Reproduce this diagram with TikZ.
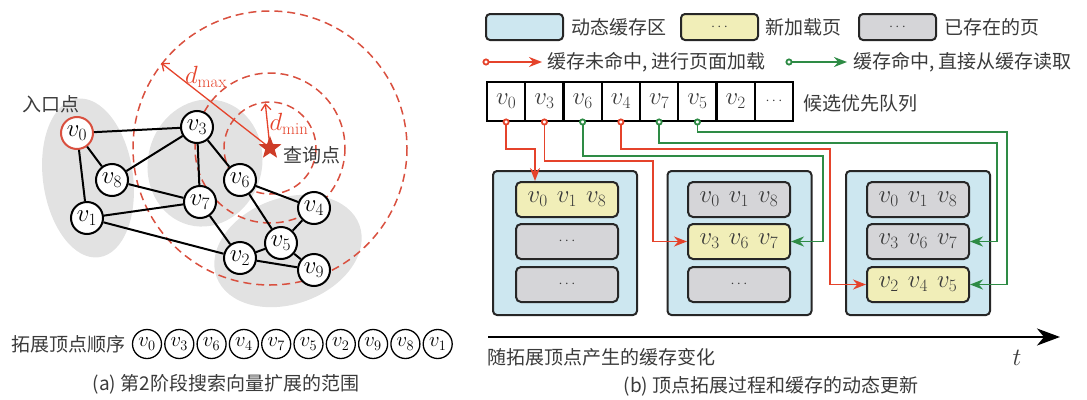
\documentclass[tikz,border=0pt]{standalone}
\usepackage{fontspec}
\newfontfamily\cjk{Noto Sans CJK SC}
\usetikzlibrary{arrows.meta,shapes.geometric,calc}

\definecolor{cacheblue}{HTML}{CDE7F0}
\definecolor{newyellow}{HTML}{F1EEB8}
\definecolor{oldgray}{HTML}{D5D5D8}
\definecolor{blobgray}{HTML}{E2E2E2}
\definecolor{missred}{HTML}{E5432B}
\definecolor{hitgreen}{HTML}{2E8B45}
\definecolor{ringred}{HTML}{D9503F}
\definecolor{txtgray}{HTML}{3A3A3A}

\newcommand{\cjksize}{\fontsize{19}{22}\selectfont}
\newcommand{\vlabsize}{\fontsize{24}{28}\selectfont}

\tikzset{
  cjktext/.style={font=\cjk\cjksize, text=txtgray, inner sep=0pt},
  ring/.style={ringred, line width=1.5pt, dash pattern=on 8pt off 5pt},
  miss/.style={missred, line width=1.8pt, shorten <=-3.5pt,
    {Circle[length=7pt,width=7pt,fill=white]}-{Stealth[length=13pt,width=10pt]}},
  hit/.style={hitgreen, line width=1.8pt, shorten <=-3.5pt,
    {Circle[length=7pt,width=7pt,fill=white]}-{Stealth[length=13pt,width=10pt]}},
  cachebox/.style={draw=black!85, line width=2pt, rounded corners=4pt, fill=cacheblue,
    minimum width=144pt, minimum height=144pt},
  rowbox/.style={draw=black!85, line width=2pt, rounded corners=5pt,
    minimum width=102pt, minimum height=35pt, inner sep=0pt, font=\vlabsize, text=txtgray},
  legbox/.style={draw=black!85, line width=2pt, rounded corners=4pt,
    minimum width=77pt, minimum height=26pt, inner sep=0pt, font=\fontsize{14}{16}\selectfont, text=txtgray},
}

\begin{document}
\begin{tikzpicture}[x=1pt,y=-1pt]
  \useasboundingbox (0,0) rectangle (1087,399);

  % (a) graph and search range
  \fill[blobgray, rotate around={8:(88,178)}] (88,178) ellipse (45 and 80);
  \fill[blobgray, rotate around={-15:(205,163)}] (205,163) ellipse (57 and 64);
  \fill[blobgray, rotate around={20:(288,251)}] (288,251) ellipse (76 and 53);

  \coordinate (qp) at (270,148);
  \draw[ring] (qp) circle (46);
  \draw[ring] (qp) circle (75);
  \draw[ring] (qp) circle (137);

  \coordinate (dmx) at ($(qp)+(-142:138)$);
  \draw[missred, line width=1.3pt, -{Straight Barb[length=6pt,width=10pt]}] (qp) -- (dmx);
  \coordinate (dmn) at ($(qp)+(-96:45)$);
  \draw[missred, line width=1.3pt, -{Straight Barb[length=6pt,width=10pt]}] (qp) -- (dmn);
  \node[missred, font=\vlabsize, inner sep=0pt] (dmaxlab) at (206,77) {$d_{\mathrm{max}}$};
  \node[missred, font=\vlabsize, inner sep=0pt] (dminlab) at (289,124) {$d_{\mathrm{min}}$};

  \begin{scope}[every node/.style={circle, draw, line width=2pt, fill=white,
      minimum size=32pt, inner sep=0pt, font=\vlabsize}]
    \node (v0) at (77,133) [draw=ringred] {$v_0$};
    \node (v3) at (197,127) {$v_3$};
    \node (v8) at (112,180) {$v_8$};
    \node (v6) at (240,180) {$v_6$};
    \node (v7) at (200,202) {$v_7$};
    \node (v1) at (87,218)  {$v_1$};
    \node (v4) at (314,208) {$v_4$};
    \node (v5) at (281,243) {$v_5$};
    \node (v2) at (240,258) {$v_2$};
    \node (v9) at (314,270) {$v_9$};
  \end{scope}

  \begin{scope}[every edge/.style={draw, line width=2pt}]
    \path (v0) edge (v3);
    \path (v0) edge (v8);
    \path (v0) edge (v1);
    \path (v3) edge (v8);
    \path (v3) edge (v7);
    \path (v3) edge (v6);
    \path (v8) edge (v7);
    \path (v1) edge (v7);
    \path (v1) edge (v2);
    \path (v7) edge (v2);
    \path (v6) edge (v4);
    \path (v6) edge (v5);
    \path (v4) edge (v5);
    \path (v2) edge (v5);
    \path (v2) edge (v9);
    \path (v5) edge (v9);
  \end{scope}

  \node[star, star points=5, star point ratio=2.4, fill=missred!90!black,
    minimum size=24pt, inner sep=0pt] (query) at (qp) {};
  \node[cjktext, anchor=west] (querylab) at (283,155) {查询点};
  \node[cjktext, anchor=west] (entrylab) at (22,104) {入口点};

  % expansion order
  \node[cjktext] (orderlab) at (69,344) {拓展顶点顺序};
  \begin{scope}[every node/.style={circle, draw, line width=1.3pt,
      minimum size=29pt, inner sep=0pt, font=\fontsize{22}{26}\selectfont}]
    \node (s0) at (147,344)   {$v_0$};
    \node (s1) at (179.3,344) {$v_3$};
    \node (s2) at (211.6,344) {$v_6$};
    \node (s3) at (243.9,344) {$v_4$};
    \node (s4) at (276.2,344) {$v_7$};
    \node (s5) at (308.5,344) {$v_5$};
    \node (s6) at (340.8,344) {$v_2$};
    \node (s7) at (373.1,344) {$v_9$};
    \node (s8) at (405.4,344) {$v_8$};
    \node (s9) at (437.7,344) {$v_1$};
  \end{scope}
  \node[cjktext] (capa) at (226,384) {(a) 第2阶段搜索向量扩展的范围};

  % (b) legend
  \node[legbox, fill=cacheblue] (lg1) at (524.5,27) {};
  \node[cjktext, anchor=west] (lgt1) at (571,27) {动态缓存区};
  \node[legbox, fill=newyellow] (lg2) at (719.5,27) {$\cdots$};
  \node[cjktext, anchor=west] (lgt2) at (765,27) {新加载页};
  \node[legbox, fill=oldgray] (lg3) at (897.5,27) {$\cdots$};
  \node[cjktext, anchor=west] (lgt3) at (944,27) {已存在的页};

  \coordinate (m1) at (486,62);
  \coordinate (m2) at (542,62);
  \draw[miss] (m1) -- (m2);
  \node[cjktext, anchor=west] (lgt4) at (547,62) {缓存未命中, 进行页面加载};
  \coordinate (h1) at (789,62);
  \coordinate (h2) at (847,62);
  \draw[hit] (h1) -- (h2);
  \node[cjktext, anchor=west] (lgt5) at (853,62) {缓存命中, 直接从缓存读取};

  % candidate queue
  \begin{scope}[every node/.style={draw, line width=2pt, minimum width=38.25pt,
      minimum height=39pt, inner sep=0pt, font=\vlabsize, text=txtgray}]
    \node (c0) at (506.1,101.5) {$v_0$};
    \node (c1) at (544.4,101.5) {$v_3$};
    \node (c2) at (582.6,101.5) {$v_6$};
    \node (c3) at (620.9,101.5) {$v_4$};
    \node (c4) at (659.1,101.5) {$v_7$};
    \node (c5) at (697.4,101.5) {$v_5$};
    \node (c6) at (735.6,101.5) {$v_2$};
    \node (c7) at (773.9,101.5) {\fontsize{14}{16}\selectfont$\cdots$};
  \end{scope}
  \node[cjktext, anchor=west] (queuelab) at (803,103) {候选优先队列};

  % cache states
  \node[cachebox] (b1) at (565,243) {};
  \node[cachebox] (b2) at (739.5,243) {};
  \node[cachebox] (b3) at (918,243) {};

  \node[rowbox, fill=newyellow] (b1r1) at (567,199.5) {$v_0$\hspace{9pt}$v_1$\hspace{9pt}$v_8$};
  \node[rowbox, fill=oldgray]   (b1r2) at (567,241.5) {\fontsize{14}{16}\selectfont$\cdots$};
  \node[rowbox, fill=oldgray]   (b1r3) at (567,284.5) {\fontsize{14}{16}\selectfont$\cdots$};

  \node[rowbox, fill=oldgray]   (b2r1) at (739,199.5) {$v_0$\hspace{9pt}$v_1$\hspace{9pt}$v_8$};
  \node[rowbox, fill=newyellow] (b2r2) at (739,241.5) {$v_3$\hspace{9pt}$v_6$\hspace{9pt}$v_7$};
  \node[rowbox, fill=oldgray]   (b2r3) at (739,284.5) {\fontsize{14}{16}\selectfont$\cdots$};

  \node[rowbox, fill=oldgray]   (b3r1) at (918,199.5) {$v_0$\hspace{9pt}$v_1$\hspace{9pt}$v_8$};
  \node[rowbox, fill=oldgray]   (b3r2) at (918,241.5) {$v_3$\hspace{9pt}$v_6$\hspace{9pt}$v_7$};
  \node[rowbox, fill=newyellow] (b3r3) at (918,284.5) {$v_2$\hspace{9pt}$v_4$\hspace{9pt}$v_5$};

  % queue to cache
  \draw[miss] (c0.south) |- (535,149) -- (535,149 |- b1r1.north);
  \draw[miss] (c1.south) |- (653,161) |- (b2r2.west);
  \draw[hit]  (c2.south) |- (823,156) |- (b2r2.east);
  \draw[miss] (c3.south) |- (830,149) |- (b3r3.west);
  \draw[hit]  (c4.south) |- (997,143) |- (b3r2.east);
  \draw[hit]  (c5.south) |- (1007,132) |- (b3r3.east);

  % time axis
  \coordinate (t0) at (488,337);
  \coordinate (t1) at (1060,337);
  \draw[line width=2pt, -{Stealth[length=23pt,width=17pt,inset=7pt]}] (t0) -- (t1);
  \node[cjktext, anchor=west] (timelab) at (487,357) {随拓展顶点产生的缓存变化};
  \node[font=\vlabsize, text=txtgray, inner sep=0pt] (tlab) at (1017,358) {$t$};
  \node[cjktext] (capb) at (771,386) {(b) 顶点拓展过程和缓存的动态更新};
\end{tikzpicture}
\end{document}
